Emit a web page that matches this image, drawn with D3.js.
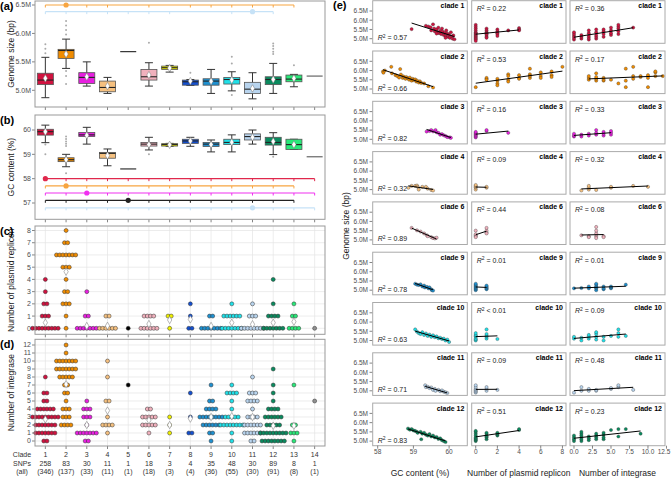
<!DOCTYPE html>
<html>
<head>
<meta charset="utf-8">
<script src="https://cdn.jsdelivr.net/npm/d3@7"></script>
<style>
  body { margin: 0; background: #fff; }
  text { font-family: "Liberation Sans", Arial, sans-serif; }
</style>
</head>
<body>
<div id="chart"></div>
<script>
// ---- data: clades and table ----
const clades = ["1","2","3","4","5","6","7","8","9","10","11","12","13","14"];
const cladeColors = ["#d1123f","#f08c00","#e81ee0","#f5c07f","#000000","#f0b0bc","#f0f000",
                     "#1450d0","#1e90d0","#20e0e8","#b8d4ee","#0a8a5e","#28e878","#909090"];
const snpCounts = ["258","83","30","11","1","18","3","4","35","48","30","89","8","1"];
const allCounts = ["(346)","(137)","(33)","(11)","(1)","(18)","(3)","(4)","(36)","(55)","(30)","(91)","(8)","(1)"];

// (a) genome size, Mbp: [low whisker, q1, median, q3, high whisker, mean]
const genomeStats = [
  [4.87,5.10,5.18,5.30,5.58,5.21],[5.385,5.56,5.70,5.72,5.90,5.637],[5.074,5.12,5.227,5.31,5.50,5.238],
  [4.945,4.974,5.05,5.162,5.227,5.074],[5.68,5.68,5.68,5.68,5.68,null],[5.074,5.18,5.238,5.367,5.485,5.268],
  [5.32,5.367,5.397,5.426,5.438,5.39],[5.085,5.09,5.15,5.18,5.19,5.162],[4.945,5.09,5.162,5.203,5.367,5.16],
  [4.99,5.11,5.19,5.227,5.326,5.18],[4.85,4.945,5.02,5.14,5.309,5.033],[4.945,5.10,5.19,5.238,5.473,5.19],
  [5.062,5.15,5.197,5.268,5.28,5.21],[5.25,5.25,5.25,5.25,5.25,null]
];
const genomeOutliers = [[5.81,5.73,5.65],[6.22,6.14,6.06,5.98,5.34,5.25,5.11],[],[],[],[5.837],[],[5.309],[],
  [5.59,5.47,4.916],[],[5.825,5.78,5.73,5.68,5.64],[5.44],[]];

// (b) GC content, %
const gcStats = [
  [59.48,59.79,59.93,60.03,60.2,59.93],[58.49,58.70,58.78,58.86,59.0,58.78],[59.42,59.73,59.8,59.9,60.11,59.78],
  [58.53,58.84,59.04,59.08,59.22,58.95],[58.4,58.4,58.4,58.4,58.4,null],[59.18,59.34,59.42,59.49,59.7,59.4],
  [59.33,59.34,59.4,59.44,59.45,59.39],[59.33,59.45,59.55,59.62,59.7,59.55],[59.1,59.32,59.42,59.49,59.59,59.4],
  [59.1,59.4,59.49,59.62,59.8,59.5],[59.42,59.59,59.73,59.84,60.0,59.7],[58.99,59.38,59.49,59.7,59.89,59.53],
  [59.2,59.2,59.4,59.62,59.62,59.4],[58.9,58.9,58.9,58.9,58.9,null]
];
const gcOutliers = [[59.4,59.0],[59.73,59.63,59.53,59.44,59.34,58.22],[],[],[],[59.0],[],[],[],[],[],[58.9],[],[]];

// significance brackets: level, start clade, end clade, reference clade, tick clades
const genomeSig = [
  { color: "#f7a541", level: 6.5,   from: "1", to: "13", ref: "2",  ticks: ["1","3","4","6","8","9","10","11","12","13"] },
  { color: "#c6e2f7", level: 6.383, from: "1", to: "12", ref: "11", ticks: ["1","2","3","4","5","6","7","10","12"] }
];
const gcSig = [
  { color: "#e0284c", level: 58.0, from: "1", to: "14", ref: "1",  ticks: ["2","3","4","5","6","7","8","9","10","11","12","13","14"] },
  { color: "#f7a541", level: 57.7, from: "1", to: "13", ref: "2",  ticks: ["1","3","4","6","7","8","9","10","11","12","13"] },
  { color: "#f030f0", level: 57.41, from: "1", to: "14", ref: "3", ticks: ["1","2","4","5","6","7","8","9","10","11","12","13","14"] },
  { color: "#222222", level: 57.11, from: "1", to: "13", ref: "5", ticks: ["1","2","3","4","6","7","8","9","10","11","12","13"] },
  { color: "#c6e2f7", level: 56.8, from: "1", to: "14", ref: "11", ticks: ["1","2","3","4","5","6","7","8","9","10","12","13","14"] }
];

// (c) plasmid replicons: [value, number of dots] per clade, plus mean
const plasmidRows = [
  [[0,9],[1,3],[2,2],[3,1],[4,1]],
  [[0,1],[1,1],[2,3],[3,2],[4,1],[5,3],[6,7],[7,2],[8,1]],
  [[0,7],[1,2],[3,1]], [[0,6],[1,2]], [[0,1]], [[0,6],[1,4]], [[0,1],[1,2]],
  [[0,2],[1,1],[2,1]], [[0,7],[1,2]], [[0,7],[1,6],[2,1]], [[0,8],[1,3],[2,1]],
  [[0,7],[1,4],[2,1],[4,1]], [[0,4],[1,2],[2,1]], [[0,1]]
];
const plasmidMeans = [0.46,4.63,0.19,0.2,null,0.35,0.68,0.73,0.19,0.46,0.33,0.46,0.54,null];

// (d) integrases
const integraseRows = [
  [[0,2],[1,7],[2,7],[3,9],[4,6],[5,2],[6,2],[8,1]],
  [[2,4],[3,3],[4,3],[5,1],[6,2],[7,2],[8,5],[9,7],[10,7],[11,1],[12,1]],
  [[0,2],[1,7],[2,1],[3,3],[4,3],[5,1]],
  [[1,1],[2,4],[3,1],[5,2],[8,1],[10,1]],
  [[7,1]],
  [[1,1],[2,5],[3,5],[4,2]],
  [[1,1],[2,1],[3,1]],
  [[1,2],[3,1],[6,1]],
  [[0,1],[1,2],[2,6],[3,8],[4,4],[5,2],[7,1]],
  [[0,1],[1,1],[2,8],[3,5],[4,1],[5,1],[6,4],[7,1]],
  [[0,2],[1,6],[2,6],[3,4],[4,1],[5,4],[6,3],[8,1]],
  [[0,8],[1,9],[2,5],[3,6],[4,4],[5,1],[6,1],[7,1],[9,1]],
  [[0,1],[1,3],[2,2],[7,1]],
  [[5,1]]
];
const integraseMeans = [2.7,7.1,2.0,3.8,null,2.6,2.0,2.8,3.0,3.1,3.0,1.9,1.9,null];

// (e) per-clade scatter: [x, genome size Mbp]
const eClades = ["1","2","3","4","6","9","10","11","12"];
const gcPoints = [
  [[58.95,5.52],[59.35,5.70],[59.42,5.66],[59.48,5.62],[59.5,5.45],[59.55,5.78],[59.58,5.55],[59.6,5.40],[59.65,5.50],[59.68,5.35],[59.7,5.60],[59.72,5.30],[59.75,5.42],[59.78,5.25],[59.8,5.55],[59.82,5.38],[59.85,5.20],[59.88,5.32],[59.9,5.15],[59.92,5.45],[59.95,5.28],[59.97,5.10],[60.0,5.22],[60.02,5.05],[60.05,5.35],[60.08,5.12],[60.1,5.00],[60.12,5.18],[59.65,5.28],[59.9,5.05],[60.15,4.97]],
  [[58.15,5.95],[58.16,5.88],[58.2,6.0],[58.38,6.2],[58.4,5.85],[58.5,5.75],[58.55,5.7],[58.6,5.62],[58.63,6.08],[58.65,5.78],[58.7,5.6],[58.72,5.68],[58.78,5.55],[58.8,5.65],[58.85,5.58],[58.88,5.5],[58.9,5.62],[58.95,5.45],[58.98,5.55],[59.0,5.48],[59.05,5.52],[59.08,5.4],[59.1,5.46],[59.15,5.35],[59.18,5.42],[59.22,5.33],[59.3,5.3],[59.42,5.15],[59.55,5.08]],
  [[59.37,5.42],[59.45,5.45],[59.5,5.5],[59.55,5.43],[59.62,5.5],[59.65,5.38],[59.7,5.35],[59.75,5.25],[59.8,5.28],[59.85,5.22],[59.9,5.18],[59.95,5.12],[60.02,5.10],[60.05,5.08]],
  [[58.86,5.1],[58.95,5.2],[59.05,5.2],[59.1,5.22],[59.12,5.15],[59.15,5.0],[59.25,5.15],[59.35,5.15],[59.4,5.05],[59.5,4.98],[59.55,4.95]],
  [[58.95,5.65],[59.1,5.52],[59.2,5.45],[59.3,5.35],[59.38,5.25],[59.4,5.2],[59.5,5.15],[59.55,5.1],[59.6,5.08],[59.65,5.12]],
  [[59.05,5.35],[59.1,5.3],[59.15,5.28],[59.2,5.32],[59.25,5.2],[59.3,5.25],[59.32,5.15],[59.38,5.18],[59.42,5.1],[59.45,5.15],[59.5,5.05],[59.52,5.0],[59.55,4.98]],
  [[59.05,5.6],[59.1,5.48],[59.15,5.4],[59.2,5.35],[59.25,5.45],[59.3,5.3],[59.35,5.38],[59.4,5.25],[59.45,5.32],[59.5,5.2],[59.55,5.28],[59.6,5.18],[59.65,5.22],[59.7,5.12],[59.75,5.15],[59.8,5.08],[59.85,5.1],[59.9,5.0],[59.95,5.05],[60.0,4.92]],
  [[59.33,5.3],[59.35,5.2],[59.4,5.22],[59.45,5.15],[59.5,5.18],[59.55,5.05],[59.6,5.1],[59.62,5.0],[59.7,5.05],[59.75,4.98],[59.8,5.02],[59.85,4.95],[59.9,4.92],[59.95,4.88]],
  [[58.85,5.68],[58.9,5.62],[58.95,5.65],[59.0,5.58],[59.05,5.55],[59.1,5.5],[59.12,5.45],[59.2,5.5],[59.22,5.1],[59.25,5.4],[59.3,5.45],[59.35,5.35],[59.4,5.3],[59.45,5.38],[59.5,5.25],[59.55,5.3],[59.6,5.2],[59.65,5.22],[59.7,5.12],[59.75,5.15],[59.8,5.05],[59.85,5.0],[59.9,4.95]]
];
const plasmidPoints = [
  [[0,5.75],[0,5.65],[0,5.55],[0,5.45],[0,5.35],[0,5.3],[0,5.25],[0,5.2],[0,5.15],[0,5.1],[0,5.05],[0,5.0],[0,4.95],[0,4.88],[1,5.55],[1,5.45],[1,5.35],[1,5.3],[1,5.25],[1,5.2],[1,5.1],[1,5.05],[2,5.5],[2,5.4],[2,5.3],[2,5.25],[2,5.15],[3,5.45],[4,5.58],[4,5.5],[4,5.45]],
  [[0,5.1],[1,5.55],[1,5.6],[1,5.5],[2,5.45],[2,5.3],[2,5.55],[2,5.2],[3,5.8],[3,5.5],[3,5.7],[3,5.4],[4,5.75],[4,5.6],[4,5.55],[5,5.8],[5,5.6],[5,5.7],[5,6.1],[6,5.9],[6,5.7],[6,5.6],[7,5.95],[7,5.75],[7,5.65],[8,6.2]],
  [[0,5.1],[0,5.15],[0,5.2],[0,5.25],[0,5.3],[0,5.35],[0,5.4],[1,5.45],[1,5.5],[3,5.35]],
  [[0,5.0],[0,5.1],[0,5.15],[0,5.2],[0,5.25],[1,5.1],[1,5.15]],
  [[0,5.2],[0,5.25],[0,5.3],[0,5.5],[0,5.15],[1,5.4],[1,5.5],[1,5.65],[1,5.35]],
  [[0,5.0],[0,5.05],[0,5.1],[0,5.15],[0,5.2],[0,5.25],[0,5.3],[0,5.35],[1,5.05],[1,5.1],[1,5.15],[1,5.2],[1,5.25]],
  [[0,5.0],[0,5.05],[0,5.1],[0,5.2],[0,5.25],[0,5.3],[0,5.4],[1,5.1],[1,5.2],[1,5.25],[1,5.35],[1,5.6],[2,5.08]],
  [[0,4.9],[0,4.95],[0,5.0],[0,5.05],[0,5.1],[0,5.2],[0,5.3],[1,5.0],[1,5.1],[1,5.2],[2,5.05]],
  [[0,5.0],[0,5.05],[0,5.1],[0,5.15],[0,5.2],[0,5.3],[0,5.4],[0,5.5],[0,5.55],[1,5.1],[1,5.2],[1,5.25],[1,5.3],[1,5.4],[1,5.45],[2,5.3],[2,5.35],[2,5.4],[2,5.45],[4,5.6],[4,5.65]]
];
const integrasePoints = [
  [[0,4.95],[0,5.05],[0,5.15],[0,5.25],[0,5.35],[1,5.0],[1,5.1],[1,5.2],[2,4.95],[2,5.05],[2,5.15],[2,5.3],[2,5.45],[3,5.0],[3,5.1],[3,5.2],[3,5.35],[3,5.5],[4,5.1],[4,5.25],[4,5.4],[4,5.5],[5,5.2],[5,5.3],[5,5.45],[5,5.6],[6,5.25],[6,5.4],[6,5.55],[6,5.65],[6,5.75],[8,5.6]],
  [[2,5.5],[2,5.6],[2,5.7],[3,5.45],[3,5.55],[3,5.65],[3,5.85],[4,5.45],[4,5.5],[4,5.6],[5,5.5],[6,5.3],[7,5.1],[7,5.45],[7,6.1],[8,5.55],[8,6.2],[8,5.7],[9,5.65],[9,5.7],[10,5.1],[10,5.6],[10,5.75],[11,5.7],[11,5.9],[11,5.95],[12,5.7]],
  [[0,5.15],[0,5.2],[0,5.3],[1,5.15],[1,5.25],[2,5.2],[2,5.3],[3,5.25],[3,5.35],[3,5.5],[4,5.2],[4,5.3],[4,5.4],[5,5.25],[5,5.35],[5,5.45]],
  [[1,4.95],[2,5.0],[2,5.1],[2,5.2],[3,4.98],[5,5.1],[5,5.15],[8,5.2],[10,5.15]],
  [[1,5.25],[2,5.2],[2,5.15],[3,5.2],[3,5.35],[3,5.5],[3,5.7],[3,5.1],[4,5.2],[4,5.15]],
  [[0,5.1],[1,5.12],[2,5.1],[2,5.2],[3,5.0],[3,5.1],[3,5.15],[3,5.2],[3,5.3],[3,5.35],[4,5.05],[4,5.1],[4,5.2],[5,5.1],[5,5.15],[5,5.2],[7,5.3]],
  [[0,5.1],[0,5.2],[1,5.0],[1,5.15],[2,5.1],[2,5.2],[2,5.3],[3,5.05],[3,5.2],[3,5.35],[3,5.45],[4,5.0],[4,5.2],[5,5.25],[6,5.2],[6,5.4],[6,5.6],[7,5.25]],
  [[0,4.9],[1,5.0],[1,5.2],[2,5.0],[2,5.1],[3,5.0],[3,5.05],[5,5.1],[5,5.15],[6,5.2],[6,5.3],[8,5.05]],
  [[0,5.0],[0,5.1],[0,5.2],[0,5.3],[1,5.0],[1,5.1],[1,5.2],[1,5.3],[1,5.4],[1,5.5],[2,5.05],[2,5.15],[2,5.25],[3,5.1],[3,5.2],[3,5.3],[3,5.4],[4,5.1],[4,5.2],[4,5.35],[4,5.45],[5,5.6],[6,5.25],[6,5.65],[7,5.65],[9,5.4]]
];
const r2Gc = ["0.57","0.66","0.82","0.32","0.89","0.78","0.63","0.71","0.83"];
const r2Plasmid = ["0.22","0.53","0.16","0.09","0.44","0.01","<0.01","0.09","0.51"];
const r2Integrase = ["0.36","0.17","0.33","0.32","0.08","0.01","0.09","0.48","0.23"];

// ---- drawing ----
const svg = d3.select("#chart").append("svg").attr("width", 671).attr("height", 478);
const colorOf = d3.scaleOrdinal().domain(clades).range(cladeColors);
const xC = d3.scaleBand().domain(clades).range([35, 325]);
const cx = c => xC(c) + xC.bandwidth() / 2;

const leftPanels = [
  { label: "(a)", top: 1, bottom: 107, y: d3.scaleLinear().domain([5, 6.5]).range([90.3, 5]),
    ticks: [5, 5.5, 6, 6.5], fmt: d => d3.format(".1f")(d) + "M", title: "Genome size (bp)", grid: false },
  { label: "(b)", top: 115, bottom: 219.3, y: d3.scaleLinear().domain([57, 60]).range([203, 130]),
    ticks: [57, 58, 59, 60], fmt: d3.format("d"), title: "GC content (%)", grid: false },
  { label: "(c)", top: 226, bottom: 334.3, y: d3.scaleLinear().domain([0, 8]).range([328.3, 230.5]),
    ticks: d3.range(0, 9), fmt: d3.format("d"), title: "Number of plasmid replicon", grid: true },
  { label: "(d)", top: 339.3, bottom: 446, y: d3.scaleLinear().domain([0, 12]).range([441, 345]),
    ticks: d3.range(0, 13), fmt: d3.format("d"), title: "Number of integrase", grid: true }
];

leftPanels.forEach((p, i) => {
  const g = svg.append("g");
  if (p.grid) {
    g.selectAll(".hg").data(p.ticks).enter().append("line")
      .attr("x1", 35).attr("x2", 325).attr("y1", d => p.y(d)).attr("y2", d => p.y(d))
      .attr("stroke", "#e4e4e4").attr("stroke-width", 0.7);
    g.selectAll(".vg").data(clades).enter().append("line")
      .attr("x1", cx).attr("x2", cx).attr("y1", p.top).attr("y2", p.bottom)
      .attr("stroke", "#e4e4e4").attr("stroke-width", 0.7);
  }
  // y axis ticks
  g.selectAll(".yt").data(p.ticks).enter().append("line")
    .attr("x1", 32).attr("x2", 35).attr("y1", d => p.y(d)).attr("y2", d => p.y(d))
    .attr("stroke", "#333").attr("stroke-width", 0.6);
  g.selectAll(".yl").data(p.ticks).enter().append("text")
    .attr("x", 31).attr("y", d => p.y(d)).attr("dy", "0.35em")
    .attr("text-anchor", "end").style("font-size", "7px").attr("fill", "#4d4d4d")
    .text(p.fmt);
  // x ticks
  g.selectAll(".xt").data(clades).enter().append("line")
    .attr("x1", cx).attr("x2", cx).attr("y1", p.bottom).attr("y2", p.bottom + 3)
    .attr("stroke", "#333").attr("stroke-width", 0.6);
  g.append("text")
    .attr("transform", `translate(14,${(p.top + p.bottom) / 2}) rotate(-90)`)
    .attr("text-anchor", "middle").style("font-size", "8.5px").attr("fill", "#222")
    .text(p.title);
  g.append("text").attr("x", 0).attr("y", p.top + 9)
    .style("font-size", "11px").style("font-weight", "bold").text(p.label);
  p.g = g;
});

function drawBoxes(p, stats, outliers, sigs) {
  const g = p.g.append("g");
  const bw = 16, cw = 8;
  stats.forEach((s, i) => {
    const c = clades[i], x = cx(c), col = colorOf(c);
    outliers[i].forEach(v => {
      g.append("circle").attr("cx", x).attr("cy", p.y(v)).attr("r", 1)
        .attr("fill", "#aaa");
    });
    if (s[0] === s[4]) {
      g.append("line").attr("x1", x - bw / 2).attr("x2", x + bw / 2)
        .attr("y1", p.y(s[2])).attr("y2", p.y(s[2]))
        .attr("stroke", c === "5" ? "#333" : "#666").attr("stroke-width", 1.2);
      return;
    }
    g.append("line").attr("x1", x).attr("x2", x).attr("y1", p.y(s[0])).attr("y2", p.y(s[4]))
      .attr("stroke", "#333").attr("stroke-width", 1);
    [s[0], s[4]].forEach(v => {
      g.append("line").attr("x1", x - cw / 2).attr("x2", x + cw / 2).attr("y1", p.y(v)).attr("y2", p.y(v))
        .attr("stroke", "#333").attr("stroke-width", 1);
    });
    g.append("rect").attr("x", x - bw / 2).attr("width", bw)
      .attr("y", p.y(s[3])).attr("height", Math.max(1, p.y(s[1]) - p.y(s[3])))
      .attr("fill", col).attr("stroke", "#555").attr("stroke-width", 0.8);
    g.append("line").attr("x1", x - bw / 2).attr("x2", x + bw / 2).attr("y1", p.y(s[2])).attr("y2", p.y(s[2]))
      .attr("stroke", "#222").attr("stroke-width", 1.1);
    if (s[5] !== null) {
      g.append("path").attr("d", d3.symbol(d3.symbolDiamond, 16)())
        .attr("transform", `translate(${x},${p.y(s[5])})`)
        .attr("fill", "#fff").attr("stroke", "#777").attr("stroke-width", 0.5);
    }
  });
  sigs.forEach(s => {
    const y = p.y(s.level);
    g.append("line").attr("x1", cx(s.from)).attr("x2", cx(s.to)).attr("y1", y).attr("y2", y)
      .attr("stroke", s.color).attr("stroke-width", 1.2);
    g.selectAll(null).data(s.ticks).enter().append("line")
      .attr("x1", cx).attr("x2", cx).attr("y1", y).attr("y2", y + 2.5)
      .attr("stroke", s.color).attr("stroke-width", 1);
    g.append("circle").attr("cx", cx(s.ref)).attr("cy", y).attr("r", 2.6).attr("fill", s.color);
  });
}

function drawDots(p, rows, means) {
  const g = p.g.append("g");
  const step = 3.2;
  rows.forEach((clRows, i) => {
    const c = clades[i], x = cx(c);
    clRows.forEach(([v, n]) => {
      for (let k = 0; k < n; k++) {
        g.append("circle").attr("cx", x + (k - (n - 1) / 2) * step).attr("cy", p.y(v)).attr("r", 2)
          .attr("fill", colorOf(c)).attr("stroke", "#333").attr("stroke-width", 0.5);
      }
    });
    if (means[i] !== null) {
      g.append("path").attr("d", d3.symbol(d3.symbolDiamond, 16)())
        .attr("transform", `translate(${x},${p.y(means[i])})`)
        .attr("fill", "#fff").attr("stroke", "#888").attr("stroke-width", 0.6);
    }
  });
}

drawBoxes(leftPanels[0], genomeStats, genomeOutliers, genomeSig);
drawBoxes(leftPanels[1], gcStats, gcOutliers, gcSig);
drawDots(leftPanels[2], plasmidRows, plasmidMeans);
drawDots(leftPanels[3], integraseRows, integraseMeans);

leftPanels.forEach(p => {
  svg.append("rect").attr("x", 35).attr("y", p.top).attr("width", 290).attr("height", p.bottom - p.top)
    .attr("fill", "none").attr("stroke", "#999").attr("stroke-width", 1);
});

// table under (d)
const tableRows = [["Clade", clades, 455], ["SNPs", snpCounts, 463.5], ["(all)", allCounts, 472]];
tableRows.forEach(([name, vals, y]) => {
  svg.append("text").attr("x", 22).attr("y", y).attr("dy", "0.35em").attr("text-anchor", "middle")
    .style("font-size", "7px").attr("fill", "#333").text(name);
  svg.selectAll(null).data(vals).enter().append("text")
    .attr("x", (d, i) => cx(clades[i])).attr("y", y).attr("dy", "0.35em").attr("text-anchor", "middle")
    .style("font-size", "7px").attr("fill", "#333").text(d => d);
});

// ---- (e) facets ----
const colX = [
  d3.scaleLinear().domain([57.86, 60.51]).range([372.7, 467.3]),
  d3.scaleLinear().domain([-0.37, 8.33]).range([471.7, 566]),
  d3.scaleLinear().domain([-0.54, 12.3]).range([570, 665])
];
const colTicks = [[58, 59, 60], [0, 2, 4, 6, 8], [0, 2.5, 5, 7.5, 10, 12.5]];
const colFmt = [d3.format("d"), d3.format("d"), d3.format(".1f")];
const colData = [gcPoints, plasmidPoints, integrasePoints];
const colR2 = [r2Gc, r2Plasmid, r2Integrase];
const colTitles = ["GC content (%)", "Number of plasmid replicon", "Number of integrase"];
const ph = 42.6;

function fitLine(pts) {
  const mx = d3.mean(pts, d => d[0]), my = d3.mean(pts, d => d[1]);
  let sxy = 0, sxx = 0;
  pts.forEach(d => { sxy += (d[0] - mx) * (d[1] - my); sxx += (d[0] - mx) ** 2; });
  const b = sxx ? sxy / sxx : 0;
  const [x0, x1] = d3.extent(pts, d => d[0]);
  return [[x0, my + b * (x0 - mx)], [x1, my + b * (x1 - mx)]];
}

eClades.forEach((c, r) => {
  const top = 0.7 + 50.3 * r;
  const y = d3.scaleLinear().domain([5, 6.5]).range([top + 38, top + 10.3]);
  // y ticks on first column
  [5, 5.5, 6, 6.5].forEach(v => {
    svg.append("line").attr("x1", 369.5).attr("x2", 372.7).attr("y1", y(v)).attr("y2", y(v))
      .attr("stroke", "#333").attr("stroke-width", 0.6);
    svg.append("text").attr("x", 368).attr("y", y(v)).attr("dy", "0.35em").attr("text-anchor", "end")
      .style("font-size", "6.5px").attr("fill", "#4d4d4d").text(d3.format(".1f")(v) + "M");
  });
  colX.forEach((x, j) => {
    const [x0, x1] = x.range();
    const g = svg.append("g");
    const pts = colData[j][r];
    g.selectAll("circle").data(pts).enter().append("circle")
      .attr("cx", d => x(d[0])).attr("cy", d => y(d[1])).attr("r", 1.6)
      .attr("fill", colorOf(c)).attr("stroke", "#333").attr("stroke-width", 0.35);
    const ln = fitLine(pts);
    g.append("line").attr("x1", x(ln[0][0])).attr("y1", y(ln[0][1]))
      .attr("x2", x(ln[1][0])).attr("y2", y(ln[1][1]))
      .attr("stroke", "#000").attr("stroke-width", 1);
    g.append("rect").attr("x", x0).attr("y", top).attr("width", x1 - x0).attr("height", ph)
      .attr("fill", "none").attr("stroke", "#aaa").attr("stroke-width", 1);
    g.append("text").attr("x", x1 - 3).attr("y", top + 7.5).attr("text-anchor", "end")
      .style("font-size", "7px").style("font-weight", "bold").text("clade " + c);
    const ry = j === 0 ? top + 39.5 : top + 10.5;
    const rt = g.append("text").attr("x", x0 + 5).attr("y", ry).style("font-size", "7px").attr("fill", "#222");
    rt.append("tspan").style("font-style", "italic").text("R");
    rt.append("tspan").attr("dy", -2.5).style("font-size", "5px").text("2");
    const v = colR2[j][r];
    rt.append("tspan").attr("dy", 2.5).text(v.startsWith("<") ? " < " + v.slice(1) : " = " + v);
    if (r === eClades.length - 1) {
      colTicks[j].forEach(t => {
        g.append("line").attr("x1", x(t)).attr("x2", x(t)).attr("y1", top + ph).attr("y2", top + ph + 3)
          .attr("stroke", "#333").attr("stroke-width", 0.6);
        g.append("text").attr("x", Math.min(x(t), 664)).attr("y", top + ph + 8.5).attr("text-anchor", "middle")
          .style("font-size", "6.5px").attr("fill", "#4d4d4d").text(colFmt[j](t));
      });
      g.append("text").attr("x", (x0 + x1) / 2).attr("y", 476).attr("text-anchor", "middle")
        .style("font-size", "8.5px").attr("fill", "#222").text(colTitles[j]);
    }
  });
});

svg.append("text").attr("transform", "translate(349,226) rotate(-90)").attr("text-anchor", "middle")
  .style("font-size", "8.5px").attr("fill", "#222").text("Genome size (bp)");
svg.append("text").attr("x", 333).attr("y", 9).style("font-size", "11px").style("font-weight", "bold").text("(e)");
</script>
</body>
</html>
